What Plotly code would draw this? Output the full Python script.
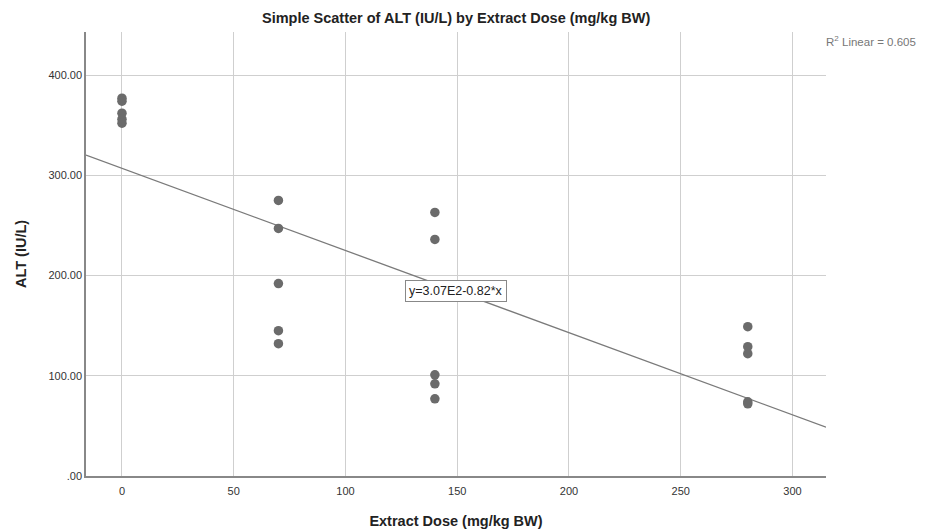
import plotly.graph_objects as go

# Data
dose_0 = [377, 374, 362, 356, 352]
dose_70 = [275, 247, 192, 145, 132]
dose_140 = [263, 236, 101, 92, 77]
dose_280 = [149, 129, 122, 74, 72]
doses = [0, 70, 140, 280]
groups = [dose_0, dose_70, dose_140, dose_280]

intercept = 307.0
slope = -0.82
r2_text = "R<sup>2</sup> Linear = 0.605"
eq_text = "y=3.07E2-0.82*x"

x_ticks = [0, 50, 100, 150, 200, 250, 300]
y_ticks = [0, 100, 200, 300, 400]
y_tick_text = [".00", "100.00", "200.00", "300.00", "400.00"]

x_range = [-16.1, 315]
y_range = [0, 443]

xs, ys = [], []
for d, g in zip(doses, groups):
    xs += [d] * len(g)
    ys += g

fig = go.Figure()
fig.add_trace(go.Scatter(
    x=[x_range[0], x_range[1]],
    y=[intercept + slope * x_range[0], intercept + slope * x_range[1]],
    mode="lines", line=dict(color="#7a7a7a", width=1.3),
    hoverinfo="skip", showlegend=False))
fig.add_trace(go.Scatter(
    x=xs, y=ys, mode="markers",
    marker=dict(color="#6b6b6b", size=9.5, line=dict(width=0)),
    showlegend=False))

eq_x = 149.5
fig.add_annotation(x=eq_x, y=intercept + slope * eq_x, text=eq_text,
                   showarrow=False, bgcolor="white", bordercolor="#888",
                   borderwidth=1, borderpad=3,
                   font=dict(family="Liberation Sans, Arial", size=12.5, color="#222"))
fig.add_annotation(x=1.0, y=1.0, xref="paper", yref="paper", xanchor="left",
                   yanchor="top", xshift=-2, yshift=0, text=r2_text, showarrow=False,
                   font=dict(family="Liberation Sans, Arial", size=11.5, color="#777"))

fig.update_layout(
    width=929, height=532,
    margin=dict(l=86, r=103, t=32, b=56, autoexpand=False),
    paper_bgcolor="white", plot_bgcolor="white",
    title=dict(text="<b>Simple Scatter of ALT (IU/L) by Extract Dose (mg/kg BW)</b>",
               x=0.491, xanchor="center", y=0.967, yanchor="middle",
               font=dict(family="Liberation Sans, Arial", size=14.5, color="#222")),
    font=dict(family="Liberation Sans, Arial", size=11, color="#333"),
)
fig.update_xaxes(
    range=x_range, tickvals=x_ticks, ticktext=[str(t) for t in x_ticks],
    showgrid=True, gridcolor="#cfcfcf", gridwidth=1, zeroline=False,
    showline=True, linecolor="#888", linewidth=1.5, ticks="", ticklen=0,
    ticklabelstandoff=4, automargin=False,
    tickfont=dict(size=11, color="#333"),
    title=dict(text="<b>Extract Dose (mg/kg BW)</b>", standoff=20,
               font=dict(size=14.5, color="#222")))
fig.update_yaxes(
    range=y_range, tickvals=y_ticks, ticktext=y_tick_text,
    showgrid=True, gridcolor="#cfcfcf", gridwidth=1, zeroline=False,
    showline=True, linecolor="#888", linewidth=1.5, ticks="", ticklen=0,
    automargin=False,
    tickfont=dict(size=11, color="#333"),
    title=dict(text="<b>ALT (IU/L)</b>", standoff=18,
               font=dict(size=14.5, color="#222")))

fig.write_html("out.html")
